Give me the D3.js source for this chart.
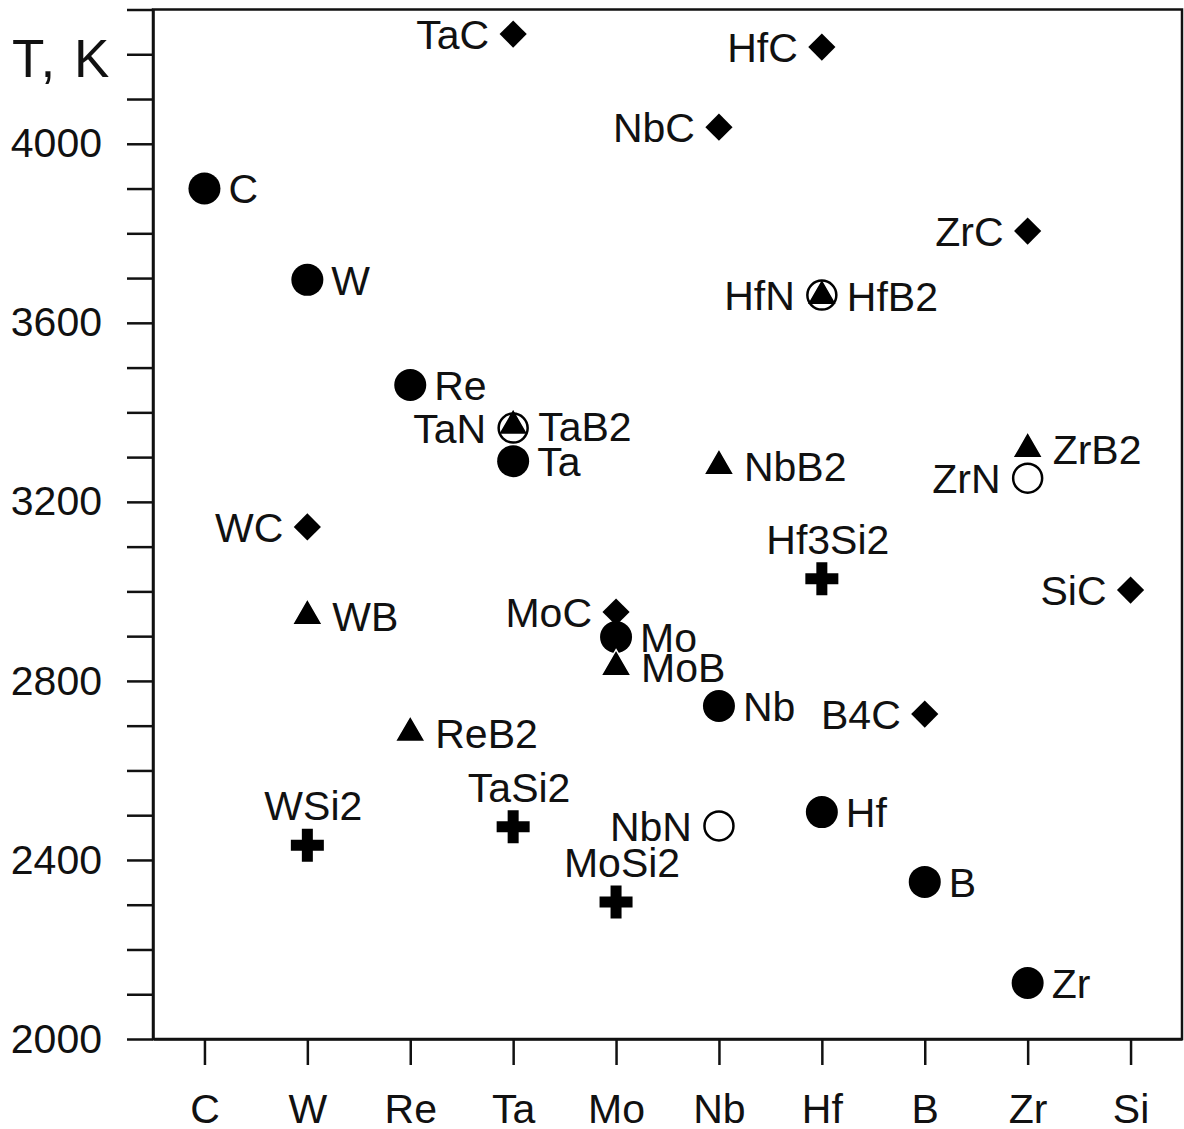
<!DOCTYPE html>
<html>
<head>
<meta charset="utf-8">
<script src="https://cdn.jsdelivr.net/npm/d3@7"></script>
<style>
  body { margin: 0; background: #fff; }
  svg { display: block; font-family: Arial, "Liberation Sans", sans-serif; }
</style>
</head>
<body>
<div id="root"></div>
<script>
// categories along the x axis
const categories = ["C", "W", "Re", "Ta", "Mo", "Nb", "Hf", "B", "Zr", "Si"];
const yLabelTicks = [2000, 2400, 2800, 3200, 3600, 4000];

// pure elements (filled circles)
const elementCat = ["C", "W", "Re", "Ta", "Mo", "Nb", "Hf", "B", "Zr"];
const elementT = [3900, 3696, 3461, 3291, 2898, 2744, 2507, 2351, 2125];

// carbides (diamonds)
const carbideCat = ["Ta", "Hf", "Nb", "Zr", "W", "Mo", "B", "Si"];
const carbideLabel = ["TaC", "HfC", "NbC", "ZrC", "WC", "MoC", "B4C", "SiC"];
const carbideT = [4245, 4216, 4037, 3805, 3144, 2954, 2726, 3003];

// borides (triangles)
const borideCat = ["Hf", "Ta", "Nb", "Zr", "W", "Mo", "Re"];
const borideLabel = ["HfB2", "TaB2", "NbB2", "ZrB2", "WB", "MoB", "ReB2"];
const borideT = [3660, 3370, 3280, 3318, 2945, 2831, 2684];

// nitrides (open circles)
const nitrideCat = ["Hf", "Ta", "Zr", "Nb"];
const nitrideLabel = ["HfN", "TaN", "ZrN", "NbN"];
const nitrideT = [3662, 3365, 3253, 2476];

// silicides (crosses)
const silicideCat = ["Hf", "W", "Ta", "Mo"];
const silicideLabel = ["Hf3Si2", "WSi2", "TaSi2", "MoSi2"];
const silicideT = [3028, 2433, 2474, 2306];

const w = 1184;
const h = 1129;
const plotL = 153, plotR = 1182, plotT = 9.5, plotB = 1039;
const fontSize = 41;

const svg = d3.select("#root")
    .append("svg")
    .attr("width", w)
    .attr("height", h);

const x = d3.scalePoint()
    .domain(categories)
    .range([plotL, plotR])
    .padding(0.5);

const y = d3.scaleLinear()
    .domain([2000, 4300])
    .range([plotB, plotT]);

// frame
svg.append("rect")
    .attr("x", plotL)
    .attr("y", plotT)
    .attr("width", plotR - plotL)
    .attr("height", plotB - plotT)
    .attr("fill", "none")
    .attr("stroke", "#111")
    .attr("stroke-width", 2.5);

// y axis, minor ticks every 100 K, labels every 400 K
const yAxis = svg.append("g")
    .attr("transform", `translate(${plotL},0)`)
    .call(d3.axisLeft(y)
        .tickValues(d3.range(2000, 4301, 100))
        .tickSize(26)
        .tickSizeOuter(0)
        .tickPadding(25)
        .tickFormat(d => yLabelTicks.includes(d) ? d : ""));

const xAxis = svg.append("g")
    .attr("transform", `translate(0,${plotB})`)
    .call(d3.axisBottom(x)
        .tickSize(26)
        .tickSizeOuter(0)
        .tickPadding(29));

[xAxis, yAxis].forEach(ax => {
    ax.select(".domain").attr("stroke", "#111").attr("stroke-width", 2.5);
    ax.selectAll(".tick line").attr("stroke", "#111").attr("stroke-width", 2.5);
    ax.selectAll(".tick text")
        .attr("fill", "#111")
        .attr("font-size", fontSize)
        .attr("font-family", "Arial, 'Liberation Sans', sans-serif");
});

svg.append("text")
    .attr("x", 12)
    .attr("y", 77)
    .attr("font-size", 53)
    .attr("letter-spacing", 2)
    .attr("fill", "#111")
    .text("T, K");

const zip = (cats, vals, labels) => cats.map((c, i) => ({
    cat: c, t: vals[i], label: labels ? labels[i] : c
}));

const series = [
    { data: zip(elementCat, elementT), shape: d3.symbolCircle, size: Math.PI * 16 * 16,
      fill: "#000", stroke: "none", side: "right", off: 24 },
    { data: zip(carbideCat, carbideT, carbideLabel), shape: d3.symbolSquare, size: 370, rotate: 45,
      fill: "#000", stroke: "none", side: "left", off: 24 },
    { data: zip(borideCat, borideT, borideLabel), shape: d3.symbolTriangle, size: 390,
      fill: "#000", stroke: "#fff", sw: 1.5, side: "right", off: 25 },
    { data: zip(nitrideCat, nitrideT, nitrideLabel), shape: d3.symbolCircle, size: Math.PI * 14.5 * 14.5,
      fill: "none", stroke: "#000", sw: 2.5, side: "left", off: 27 },
    { data: zip(silicideCat, silicideT, silicideLabel), shape: d3.symbolCross, size: 605,
      fill: "#000", stroke: "none", side: "top", off: 25 }
];

series.forEach(s => {
    const g = svg.append("g");
    g.selectAll("path")
        .data(s.data)
        .enter()
        .append("path")
        .attr("transform", d => `translate(${x(d.cat)},${y(d.t)}) rotate(${s.rotate || 0})`)
        .attr("d", d3.symbol().type(s.shape).size(s.size))
        .attr("fill", s.fill)
        .attr("stroke", s.stroke)
        .attr("stroke-width", s.sw || 0);
});

series.forEach(s => {
    svg.append("g").selectAll("text")
        .data(s.data)
        .enter()
        .append("text")
        .attr("font-size", fontSize)
        .attr("fill", "#111")
        .attr("x", d => s.side === "right" ? x(d.cat) + s.off
            : s.side === "left" ? x(d.cat) - s.off : x(d.cat) + 6)
        .attr("y", d => s.side === "top" ? y(d.t) - s.off : y(d.t))
        .attr("dy", s.side === "top" ? 0 : "0.36em")
        .attr("text-anchor", s.side === "right" ? "start" : s.side === "left" ? "end" : "middle")
        .text(d => d.label);
});
</script>
</body>
</html>
